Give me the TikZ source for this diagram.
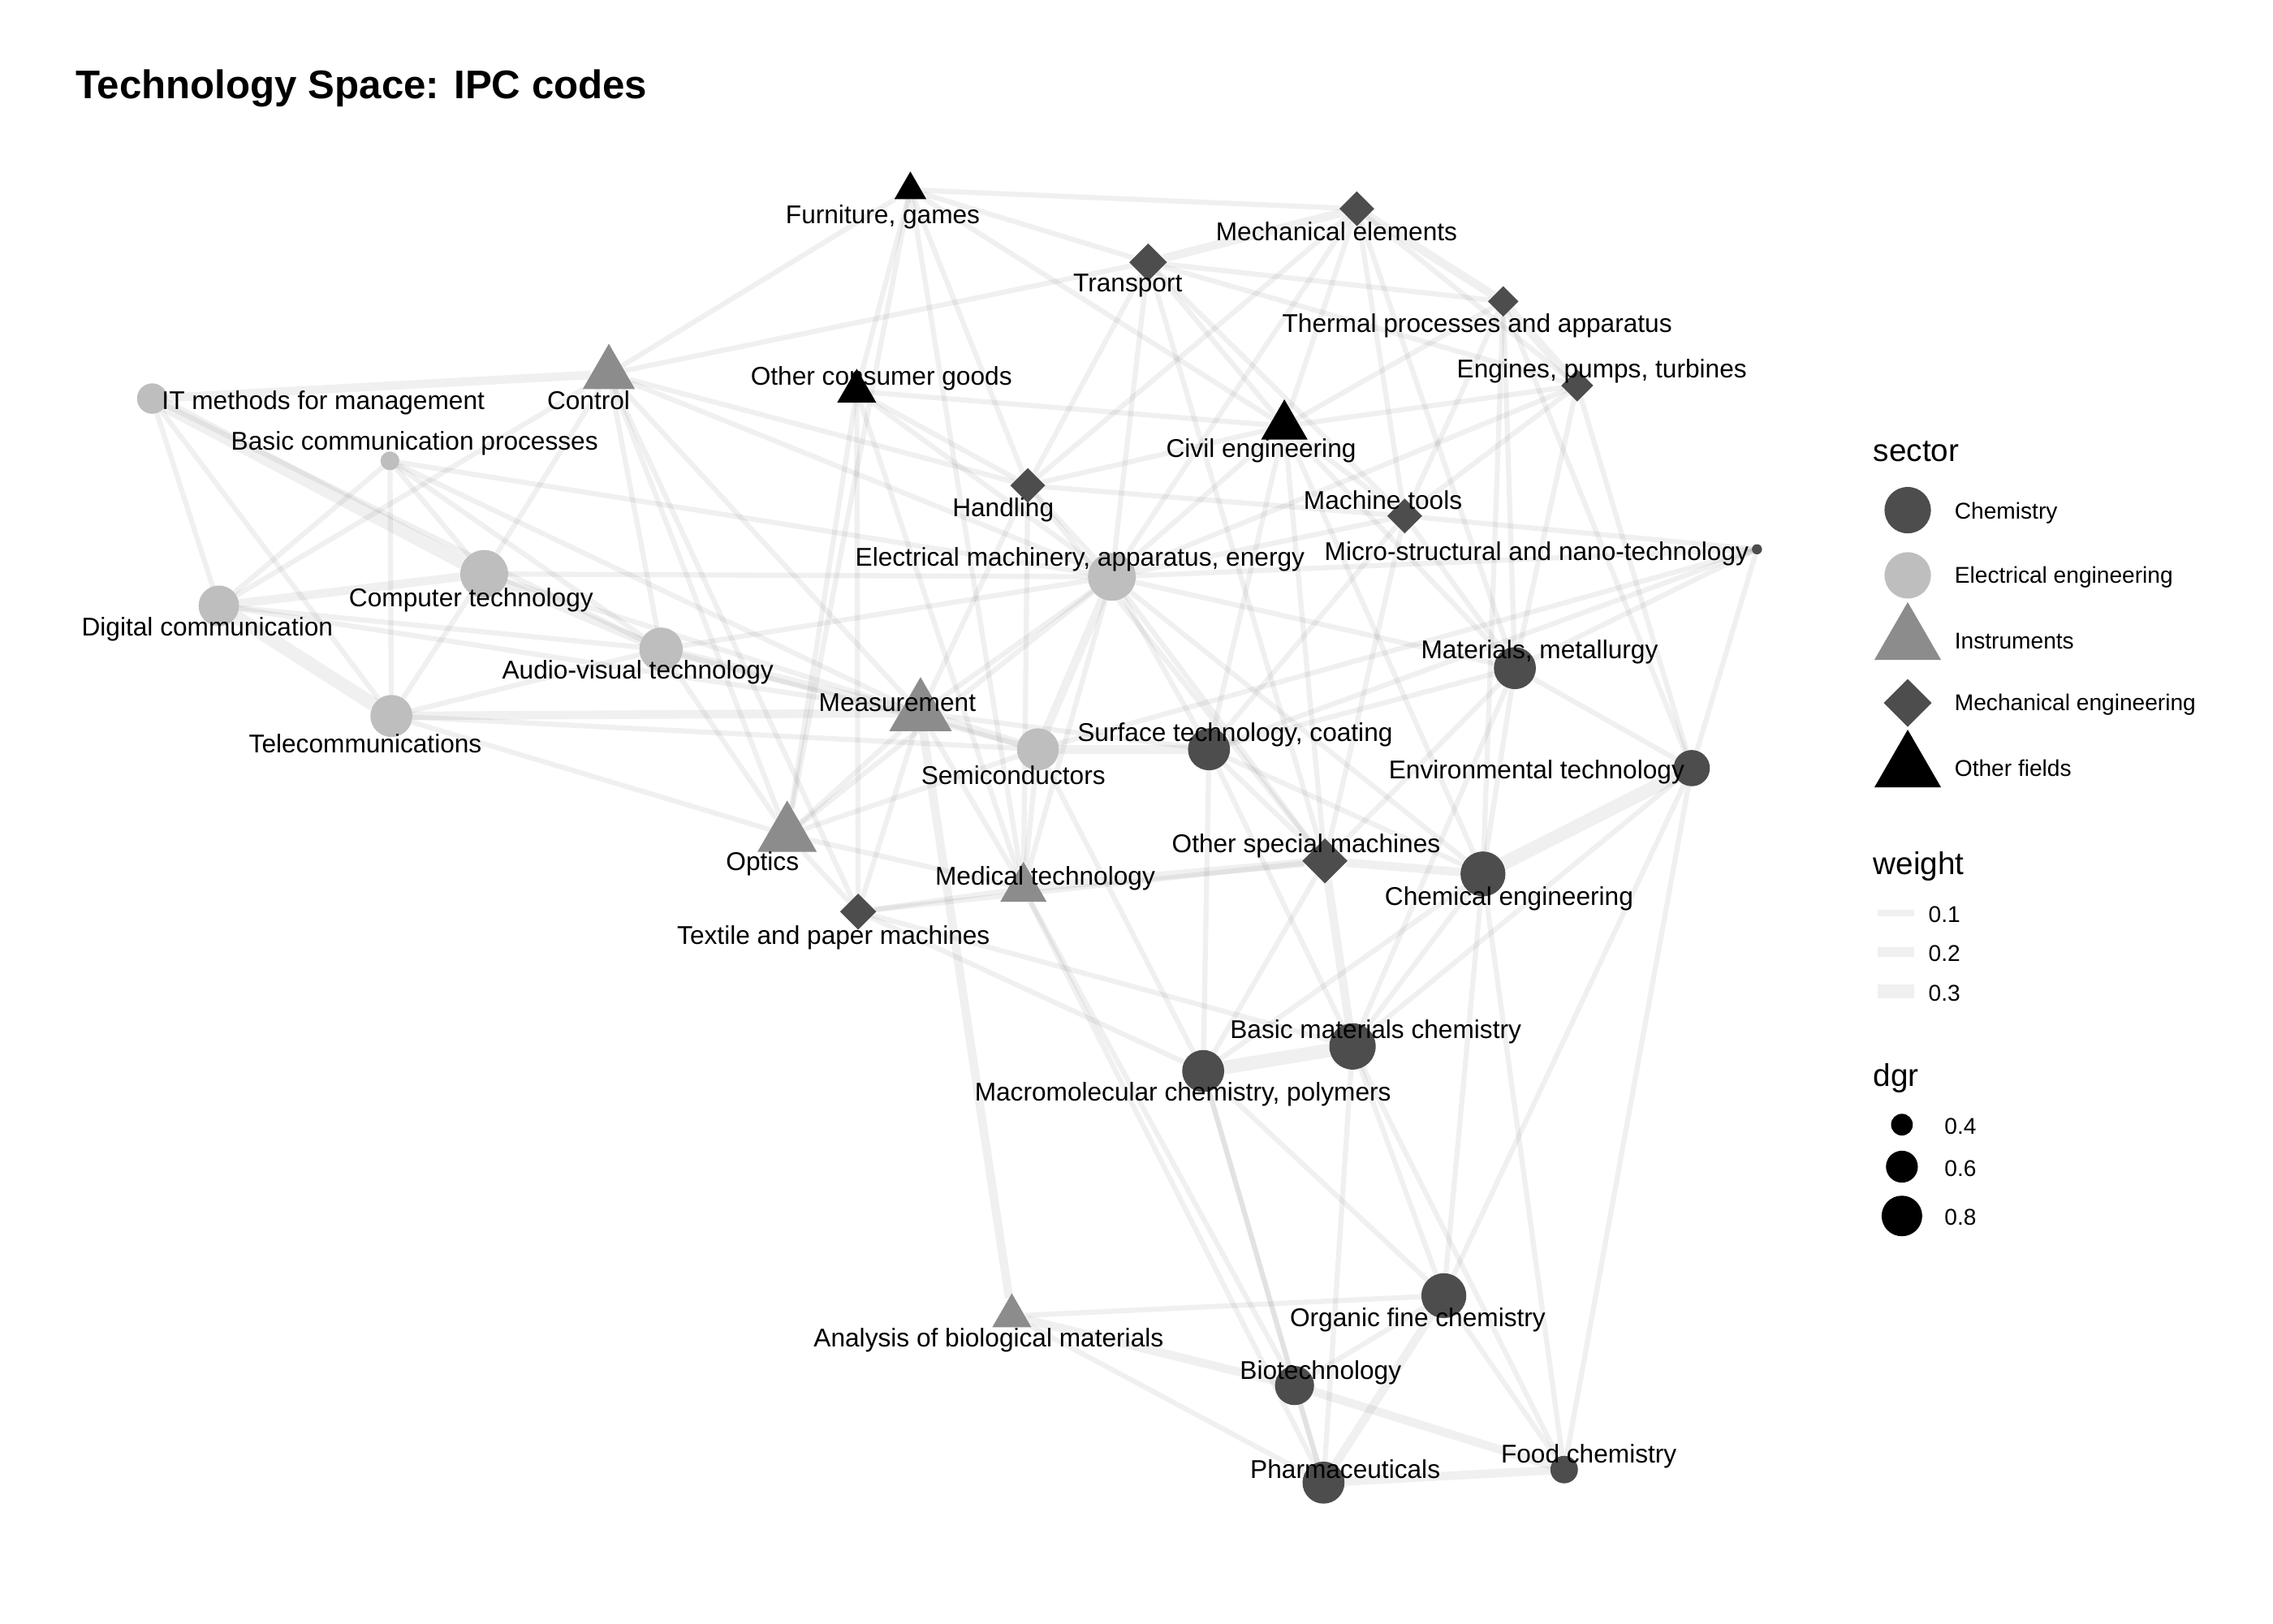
\documentclass[tikz,border=0pt]{standalone}
\usepackage{fontspec}
\setmainfont{Liberation Sans}
\usetikzlibrary{shapes.geometric}

\definecolor{chemgray}{HTML}{4D4D4D}
\definecolor{elecgray}{HTML}{BEBEBE}
\definecolor{instgray}{HTML}{8C8C8C}
\definecolor{mechgray}{HTML}{4D4D4D}

\pgfdeclarelayer{background}
\pgfsetlayers{background,main}

\begin{document}
\begin{tikzpicture}[x=0.017857cm, y=-0.017857cm]

\tikzset{chem/.style={circle, fill=chemgray, inner sep=0, outer sep=0, minimum size=#1*0.017857cm}}
\tikzset{elec/.style={circle, fill=elecgray, inner sep=0, outer sep=0, minimum size=#1*0.017857cm}}
\tikzset{instr/.style={regular polygon, regular polygon sides=3, fill=instgray, inner sep=0, outer sep=0, minimum size=1.1547*#1*0.017857cm}}
\tikzset{mech/.style={diamond, fill=mechgray, inner sep=0, outer sep=0, minimum size=#1*0.017857cm}}
\tikzset{other/.style={regular polygon, regular polygon sides=3, fill=black, inner sep=0, outer sep=0, minimum size=1.1547*#1*0.017857cm}}
\tikzset{lbl/.style={inner sep=0, yshift=-0.035cm, font=\fontsize{9}{10}\selectfont}}
\tikzset{e1/.style={draw=black, draw opacity=0.06, line width=1.8pt}}
\tikzset{e2/.style={draw=black, draw opacity=0.06, line width=3pt}}
\tikzset{e3/.style={draw=black, draw opacity=0.06, line width=4.8pt}}
\tikzset{legtitle/.style={anchor=west, inner sep=0, yshift=-0.03cm, font=\fontsize{11}{13}\selectfont}}
\tikzset{leglbl/.style={anchor=west, inner sep=0, yshift=-0.02cm, font=\fontsize{8}{10}\selectfont}}

\useasboundingbox (0, 0) rectangle (1568, 1120);

% figure title
\node[anchor=west, inner sep=0, font=\bfseries\fontsize{14}{16}\selectfont] at (52, 61) (title) {Technology Space: IPC codes};

% other fields
\node[other=22] at (628, 131) (fur) {};
\node[other=27] at (591, 270) (ocg) {};
\node[other=32] at (886, 294) (civ) {};

% mechanical engineering
\node[mech=24] at (936, 144) (mel) {};
\node[mech=26] at (792, 181) (tra) {};
\node[mech=21] at (1037, 208) (the) {};
\node[mech=22] at (1088, 266) (eng) {};
\node[mech=24] at (709, 335) (han) {};
\node[mech=24] at (969, 356) (mto) {};
\node[mech=31] at (914, 594) (osm) {};
\node[mech=25] at (592, 629) (tex) {};

% instruments
\node[instr=36] at (420, 258) (con) {};
\node[instr=43] at (635, 492) (mea) {};
\node[instr=41] at (543, 576) (opt) {};
\node[instr=32] at (706, 613) (med) {};
\node[instr=27] at (698, 908) (abm) {};

% electrical engineering
\node[elec=21] at (105, 275) (itm) {};
\node[elec=13] at (269, 318) (bcp) {};
\node[elec=33] at (334, 396) (cte) {};
\node[elec=28] at (151, 418) (dco) {};
\node[elec=30] at (456, 448) (avt) {};
\node[elec=29] at (270, 494) (tel) {};
\node[elec=33] at (767, 398) (ema) {};
\node[elec=29] at (716, 517) (sem) {};

% chemistry
\node[chem=7] at (1212, 379) (mic) {};
\node[chem=29] at (1045, 461) (mat) {};
\node[chem=29] at (834, 517) (sur) {};
\node[chem=25] at (1167, 530) (env) {};
\node[chem=31] at (1023, 603) (che) {};
\node[chem=32] at (933, 722) (bmc) {};
\node[chem=29] at (830, 739) (mac) {};
\node[chem=31] at (996, 894) (ofc) {};
\node[chem=27] at (893, 956) (bio) {};
\node[chem=29] at (913, 1023) (pha) {};
\node[chem=19] at (1079, 1014) (foo) {};

% links
\begin{pgfonlayer}{background}
\draw[e3] (itm) -- (cte); \draw[e2] (itm) -- (con); \draw[e1] (itm) -- (dco); \draw[e1] (itm) -- (tel); \draw[e1] (itm) -- (avt);
\draw[e1] (bcp) -- (tel); \draw[e1] (bcp) -- (cte); \draw[e1] (bcp) -- (avt); \draw[e1] (bcp) -- (dco); \draw[e1] (bcp) -- (ema); \draw[e1] (bcp) -- (mea);
\draw[e2] (dco) -- (cte); \draw[e3] (dco) -- (tel); \draw[e1] (dco) -- (avt); \draw[e1] (dco) -- (con); \draw[e1] (dco) -- (mea);
\draw[e1] (cte) -- (tel); \draw[e2] (cte) -- (avt); \draw[e1] (cte) -- (con); \draw[e1] (cte) -- (ema); \draw[e1] (cte) -- (mea);
\draw[e1] (tel) -- (avt); \draw[e2] (tel) -- (mea); \draw[e1] (tel) -- (opt); \draw[e1] (tel) -- (sem);
\draw[e1] (avt) -- (opt); \draw[e2] (avt) -- (mea); \draw[e1] (avt) -- (ema); \draw[e1] (avt) -- (sem); \draw[e1] (avt) -- (con);
\draw[e1] (con) -- (tra); \draw[e1] (con) -- (fur); \draw[e1] (con) -- (ema); \draw[e1] (con) -- (mea); \draw[e1] (con) -- (opt); \draw[e1] (con) -- (han); \draw[e1] (con) -- (tex);
\draw[e1] (fur) -- (ocg); \draw[e1] (fur) -- (tra); \draw[e1] (fur) -- (mel); \draw[e1] (fur) -- (han); \draw[e1] (fur) -- (civ); \draw[e1] (fur) -- (med); \draw[e1] (fur) -- (opt);
\draw[e1] (ocg) -- (tex); \draw[e1] (ocg) -- (han); \draw[e1] (ocg) -- (med); \draw[e1] (ocg) -- (civ); \draw[e1] (ocg) -- (ema); \draw[e1] (ocg) -- (opt);
\draw[e2] (tra) -- (mel); \draw[e1] (tra) -- (the); \draw[e1] (tra) -- (civ); \draw[e1] (tra) -- (han); \draw[e1] (tra) -- (ema); \draw[e1] (tra) -- (eng); \draw[e1] (tra) -- (osm); \draw[e1] (tra) -- (mto);
\draw[e2] (mel) -- (the); \draw[e1] (mel) -- (eng); \draw[e1] (mel) -- (civ); \draw[e1] (mel) -- (mto); \draw[e1] (mel) -- (han); \draw[e1] (mel) -- (mat); \draw[e1] (mel) -- (ema);
\draw[e2] (the) -- (eng); \draw[e1] (the) -- (civ); \draw[e1] (the) -- (env); \draw[e1] (the) -- (che); \draw[e1] (the) -- (mat); \draw[e1] (the) -- (mto);
\draw[e1] (eng) -- (mat); \draw[e1] (eng) -- (env); \draw[e1] (eng) -- (civ); \draw[e1] (eng) -- (mto); \draw[e1] (eng) -- (ema);
\draw[e1] (civ) -- (mto); \draw[e1] (civ) -- (ema); \draw[e1] (civ) -- (han); \draw[e1] (civ) -- (mat); \draw[e1] (civ) -- (sur); \draw[e1] (civ) -- (osm); \draw[e1] (civ) -- (che);
\draw[e1] (han) -- (ema); \draw[e1] (han) -- (mto); \draw[e1] (han) -- (mea); \draw[e1] (han) -- (osm); \draw[e1] (han) -- (med);
\draw[e1] (mto) -- (ema); \draw[e1] (mto) -- (mat); \draw[e1] (mto) -- (sur); \draw[e1] (mto) -- (mic); \draw[e1] (mto) -- (osm);
\draw[e1] (mic) -- (sem); \draw[e1] (mic) -- (mat); \draw[e1] (mic) -- (ema); \draw[e1] (mic) -- (env); \draw[e1] (mic) -- (sur);
\draw[e2] (ema) -- (sem); \draw[e1] (ema) -- (mea); \draw[e1] (ema) -- (sur); \draw[e1] (ema) -- (opt); \draw[e1] (ema) -- (mat); \draw[e1] (ema) -- (osm); \draw[e1] (ema) -- (med); \draw[e1] (ema) -- (che);
\draw[e1] (mat) -- (sur); \draw[e1] (mat) -- (che); \draw[e1] (mat) -- (env); \draw[e1] (mat) -- (bmc); \draw[e1] (mat) -- (osm);
\draw[e2] (mea) -- (sem); \draw[e1] (mea) -- (opt); \draw[e1] (mea) -- (med); \draw[e1] (mea) -- (tex); \draw[e2] (mea) -- (abm); \draw[e1] (mea) -- (sur);
\draw[e2] (sem) -- (sur); \draw[e1] (sem) -- (opt); \draw[e1] (sem) -- (med); \draw[e1] (sem) -- (mac);
\draw[e1] (sur) -- (osm); \draw[e1] (sur) -- (che); \draw[e1] (sur) -- (bmc); \draw[e1] (sur) -- (mac);
\draw[e3] (env) -- (che); \draw[e1] (env) -- (bmc); \draw[e1] (env) -- (ofc); \draw[e1] (env) -- (foo);
\draw[e1] (opt) -- (tex); \draw[e1] (opt) -- (med);
\draw[e2] (osm) -- (che); \draw[e2] (osm) -- (bmc); \draw[e1] (osm) -- (mac); \draw[e2] (osm) -- (med); \draw[e1] (osm) -- (tex);
\draw[e1] (che) -- (bmc); \draw[e1] (che) -- (mac); \draw[e1] (che) -- (ofc); \draw[e1] (che) -- (foo);
\draw[e1] (med) -- (tex); \draw[e1] (med) -- (bio); \draw[e1] (med) -- (pha);
\draw[e1] (tex) -- (mac); \draw[e1] (tex) -- (bmc);
\draw[e3] (bmc) -- (mac); \draw[e1] (bmc) -- (ofc); \draw[e1] (bmc) -- (pha); \draw[e1] (bmc) -- (foo);
\draw[e1] (mac) -- (ofc); \draw[e1] (mac) -- (pha); \draw[e1] (mac) -- (bio);
\draw[e1] (abm) -- (ofc); \draw[e2] (abm) -- (bio); \draw[e1] (abm) -- (pha);
\draw[e1] (ofc) -- (bio); \draw[e2] (ofc) -- (pha); \draw[e1] (ofc) -- (foo);
\draw[e1] (bio) -- (pha); \draw[e2] (bio) -- (foo); \draw[e2] (pha) -- (foo);
\end{pgfonlayer}

% labels
\node[lbl] at (609, 148) (fur-l) {Furniture, games};
\node[lbl] at (922, 158) (mel-l) {Mechanical elements};
\node[lbl] at (778, 195) (tra-l) {Transport};
\node[lbl] at (1019, 223) (the-l) {Thermal processes and apparatus};
\node[lbl] at (1105, 254) (eng-l) {Engines, pumps, turbines};
\node[lbl] at (406, 274) (con-l) {Control};
\node[lbl] at (608, 259) (ocg-l) {Other consumer goods};
\node[lbl] at (870, 309) (civ-l) {Civil engineering};
\node[lbl] at (223, 276) (itm-l) {IT methods for management};
\node[lbl] at (286, 304) (bcp-l) {Basic communication processes};
\node[lbl] at (692, 350) (han-l) {Handling};
\node[lbl] at (954, 343) (mto-l) {Machine tools};
\node[lbl] at (1060, 380) (mic-l) {Micro-structural and nano-technology};
\node[lbl] at (745, 384) (ema-l) {Electrical machinery, apparatus, energy};
\node[lbl] at (325, 412) (cte-l) {Computer technology};
\node[lbl] at (143, 432) (dco-l) {Digital communication};
\node[lbl] at (440, 462) (avt-l) {Audio-visual technology};
\node[lbl] at (1062, 448) (mat-l) {Materials, metallurgy};
\node[lbl] at (252, 511) (tel-l) {Telecommunications};
\node[lbl] at (619, 483) (mea-l) {Measurement};
\node[lbl] at (699, 533) (sem-l) {Semiconductors};
\node[lbl] at (852, 505) (sur-l) {Surface technology, coating};
\node[lbl] at (1060, 531) (env-l) {Environmental technology};
\node[lbl] at (526, 594) (opt-l) {Optics};
\node[lbl] at (901, 582) (osm-l) {Other special machines};
\node[lbl] at (1041, 618) (che-l) {Chemical engineering};
\node[lbl] at (721, 604) (med-l) {Medical technology};
\node[lbl] at (575, 645) (tex-l) {Textile and paper machines};
\node[lbl] at (949, 710) (bmc-l) {Basic materials chemistry};
\node[lbl] at (816, 753) (mac-l) {Macromolecular chemistry, polymers};
\node[lbl] at (682, 923) (abm-l) {Analysis of biological materials};
\node[lbl] at (978, 909) (ofc-l) {Organic fine chemistry};
\node[lbl] at (911, 945) (bio-l) {Biotechnology};
\node[lbl] at (928, 1012) (pha-l) {Pharmaceuticals};
\node[lbl] at (1096, 1003) (foo-l) {Food chemistry};

% legend: sector
\node[legtitle] at (1292, 310) (sector) {sector};
\node[chem=32] at (1316, 352) (kchem) {};
\node[elec=32] at (1316, 397) (kelec) {};
\node[instr=46] at (1316, 442) (kinst) {};
\node[mech=33] at (1316, 485) (kmech) {};
\node[other=46] at (1316, 530) (kother) {};
\node[leglbl] at (1348, 353) (kchem-l) {Chemistry};
\node[leglbl] at (1348, 397) (kelec-l) {Electrical engineering};
\node[leglbl] at (1348, 441) (kinst-l) {Instruments};
\node[leglbl] at (1348, 485) (kmech-l) {Mechanical engineering};
\node[leglbl] at (1348, 529) (kother-l) {Other fields};

% legend: weight
\node[legtitle] at (1292, 596) (weight) {weight};
\node[fill=black!6, inner sep=0, minimum width=25*0.017857cm, minimum height=4*0.017857cm] at (1308, 630) (kw1) {};
\node[fill=black!6, inner sep=0, minimum width=25*0.017857cm, minimum height=7*0.017857cm] at (1308, 657) (kw2) {};
\node[fill=black!6, inner sep=0, minimum width=25*0.017857cm, minimum height=10*0.017857cm] at (1308, 684) (kw3) {};
\node[leglbl] at (1330, 630) (kw1-l) {0.1};
\node[leglbl] at (1330, 657) (kw2-l) {0.2};
\node[leglbl] at (1330, 684) (kw3-l) {0.3};

% legend: dgr
\node[legtitle] at (1292, 742) (dgr) {dgr};
\node[circle, fill=black, inner sep=0, minimum size=15*0.017857cm] at (1312, 776) (kd1) {};
\node[circle, fill=black, inner sep=0, minimum size=22*0.017857cm] at (1312, 805) (kd2) {};
\node[circle, fill=black, inner sep=0, minimum size=28*0.017857cm] at (1312, 839) (kd3) {};
\node[leglbl] at (1341, 776) (kd1-l) {0.4};
\node[leglbl] at (1341, 805) (kd2-l) {0.6};
\node[leglbl] at (1341, 839) (kd3-l) {0.8};

\end{tikzpicture}
\end{document}
